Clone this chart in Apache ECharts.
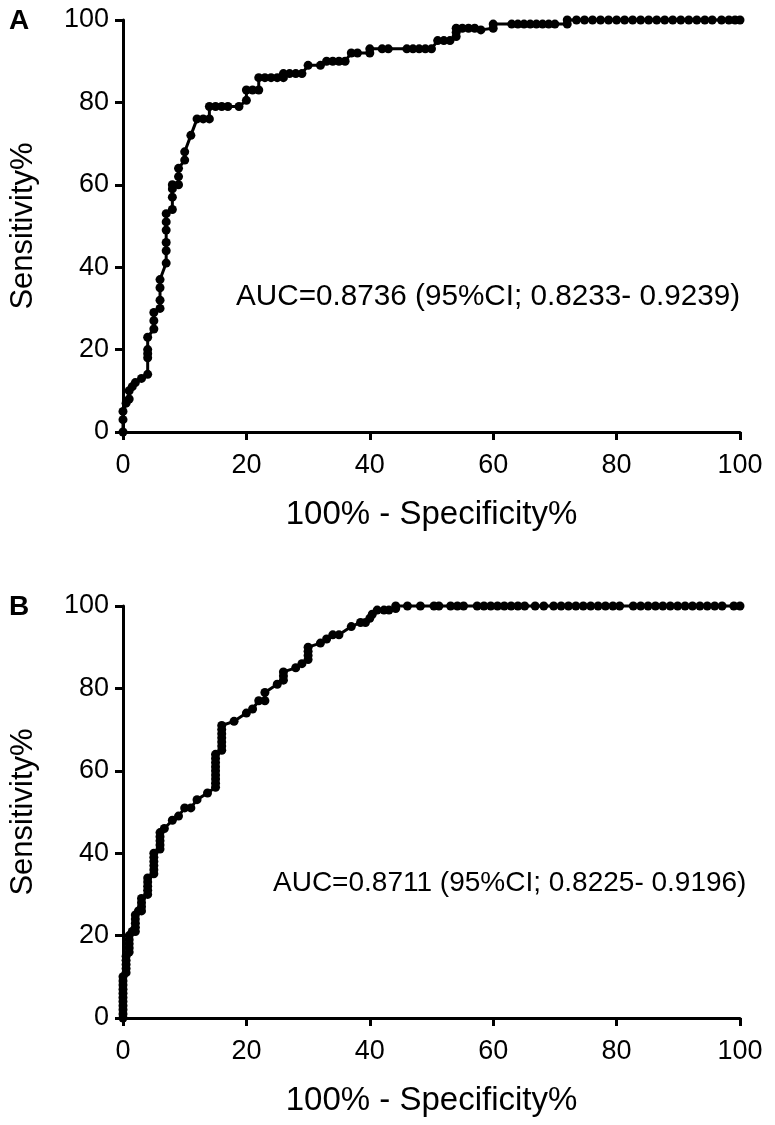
<!DOCTYPE html>
<html>
<head>
<meta charset="utf-8">
<script src="https://cdn.jsdelivr.net/npm/echarts@6/dist/echarts.min.js"></script>
<style>
html,body{margin:0;padding:0;background:#fff;}
#chart{width:775px;height:1125px;}
</style>
</head>
<body>
<div id="chart"></div>
<script>
// Panel A: ROC points [100% - Specificity%, Sensitivity%]
const rocA = [
  [0,0],[0,3],[0,5],[0.5,7],[1,8],[1,10],[1.5,11],[2,12],[3,13],[4,14],[4,18],[4,19],[4,20],[4,23],
  [5,25],[5,27],[5,29],[6,30],[6,32],[6,35],[6,37],[7,41],[7,44],[7,46],[7,49],[7,51],[7,53],
  [8,54],[8,57],[8,59],[8,60],[9,60],[9,62],[9,64],[10,66],[10,68],[11,72],[12,76],[13,76],[14,76],
  [14,79],[15,79],[16,79],[17,79],[18.8,79],[20,80.5],[20,83],[21,83],[22,83],[22,86],[23,86],[24,86],
  [25,86],[26,86],[26,87],[27,87],[28,87],[29,87],[30,89],[32,89],[33,90],[34,90],[35,90],[36,90],
  [37,92],[38,92],[40,92],[40,93],[42,93],[43,93],[46,93],[47,93],[48,93],[49,93],[50,93],[51,95],
  [52,95],[53,95],[54,96],[54,97],[54,98],[55,98],[56,98],[57,98],[58,97.6],[60,98],[60,99],[63,99],
  [64,99],[65,99],[66,99],[67,99],[68,99],[69,99],[70,99],[72,99],[72,100],[73.5,100],[74.8,100],
  [76.1,100],[77.4,100],[78.7,100],[80,100],[81.3,100],[82.6,100],[83.9,100],[85.2,100],[86.5,100],
  [87.8,100],[89.1,100],[90.4,100],[91.7,100],[93,100],[94.3,100],[95.5,100],[97,100],[98.2,100],
  [99.2,100],[100,100]
];
// Panel B: ROC points [100% - Specificity%, Sensitivity%]
const rocB = [
  [0,0],[0,1],[0,2],[0,3],[0,4],[0,5],[0,6],[0,7],[0,8],[0,9],[0,10],[0.5,11],[0.5,12],[0.5,13],
  [0.5,14],[0.5,15],[1,16],[1,17],[1,18],[1,19],[1,20],[1.5,21],[2,21],[2,22],[2,23],[2,24],[2,25],
  [2.5,26],[3,26],[3,27],[3,28],[3,29],[4,30],[4,31],[4,32],[4,33],[4,34],[5,35],[5,36],[5,37],
  [5,38],[5,39],[5,40],[6,41],[6,42],[6,43],[6,44],[6,45],[6.7,46],[8,48],[9,49],[10,51],[11,51],
  [12,53],[13.7,54.6],[15,56],[15,57],[15,58],[15,59],[15,60],[15,61],[15,62],[15,63],[15,64],
  [16,65],[16,66],[16,67],[16,68],[16,69],[16,70],[16,71],[18,72],[20,74],[21,75],[22,77],[23,77],
  [23,79],[25,81],[26,82],[26,83],[26,84],[28,85],[29,86],[30,87],[30,88],[30,89],[30,90],[32,91],
  [33,92],[34,93],[35,93],[37,95],[38.5,96],[39.3,96],[40,97],[40.4,98],[41.2,99],[42.3,99],[43.1,99],
  [44.2,99.4],[44.2,100],[46.1,100],[48.2,100],[50.4,100],[51.2,100],[53.1,100],[54.2,100],[55.2,100],
  [57.4,100],[58.5,100],[59.6,100],[60.7,100],[61.8,100],[62.9,100],[64,100],[65.1,100],[66.8,100],
  [68.2,100],[69.8,100],[71,100],[72.2,100],[73.4,100],[74.6,100],[75.8,100],[77,100],[78.2,100],
  [79.4,100],[80.5,100],[82.7,100],[83.9,100],[85.1,100],[86.3,100],[87.5,100],[88.7,100],[89.9,100],
  [91.1,100],[92.3,100],[93.5,100],[94.7,100],[95.9,100],[97.1,100],[99,100],[100,100]
];
const panelLabels = ['A', 'B'];
const aucTexts = ['AUC=0.8736 (95%CI; 0.8233- 0.9239)', 'AUC=0.8711 (95%CI; 0.8225- 0.9196)'];
const xTitle = '100% - Specificity%';
const yTitle = 'Sensitivity%';

const FONT = "'Liberation Sans', Arial, Helvetica, sans-serif";
const chart = echarts.init(document.getElementById('chart'), null, {renderer: 'canvas'});

function axisCommon() {
  return {
    type: 'value', min: 0, max: 100, interval: 20,
    axisLine: {show: true, onZero: false, lineStyle: {color: '#000', width: 3}},
    axisTick: {show: true, inside: false, length: 8, lineStyle: {color: '#000', width: 3}},
    splitLine: {show: false},
    nameLocation: 'middle'
  };
}

const grids = [
  {left: 122, right: 35, top: 20, height: 412},
  {left: 122, right: 35, top: 606, height: 412}
];
const xAxes = [0, 1].map(i => Object.assign(axisCommon(), {
  gridIndex: i, name: xTitle, nameGap: 66,
  nameTextStyle: {color: '#000', fontSize: 33, fontFamily: FONT},
  axisLabel: {color: '#000', fontSize: 27, fontFamily: FONT, margin: 20}
}));
const yAxes = [0, 1].map(i => Object.assign(axisCommon(), {
  gridIndex: i, name: yTitle, nameGap: 84,
  nameTextStyle: {color: '#000', fontSize: 31, fontFamily: FONT},
  axisLabel: {color: '#000', fontSize: 27, fontFamily: FONT, margin: 14}
}));
const series = [rocA, rocB].map((d, i) => ({
  type: 'line', xAxisIndex: i, yAxisIndex: i, data: d,
  symbol: 'circle', symbolSize: 9, showAllSymbol: true, clip: false,
  itemStyle: {color: '#000'}, lineStyle: {color: '#000', width: 3},
  animation: false
}));

chart.setOption({
  backgroundColor: '#fff',
  animation: false,
  grid: grids,
  xAxis: xAxes,
  yAxis: yAxes,
  series: series,
  graphic: [
    {type: 'text', left: 9, top: 7, style: {text: panelLabels[0], font: "bold 28px " + FONT, fill: '#000'}},
    {type: 'text', left: 9, top: 593, style: {text: panelLabels[1], font: "bold 28px " + FONT, fill: '#000'}},
    {type: 'text', left: 236, top: 282, style: {text: aucTexts[0], font: "29.7px " + FONT, fill: '#000'}},
    {type: 'text', left: 273, top: 869, style: {text: aucTexts[1], font: "28px " + FONT, fill: '#000'}}
  ]
});
</script>
</body>
</html>
